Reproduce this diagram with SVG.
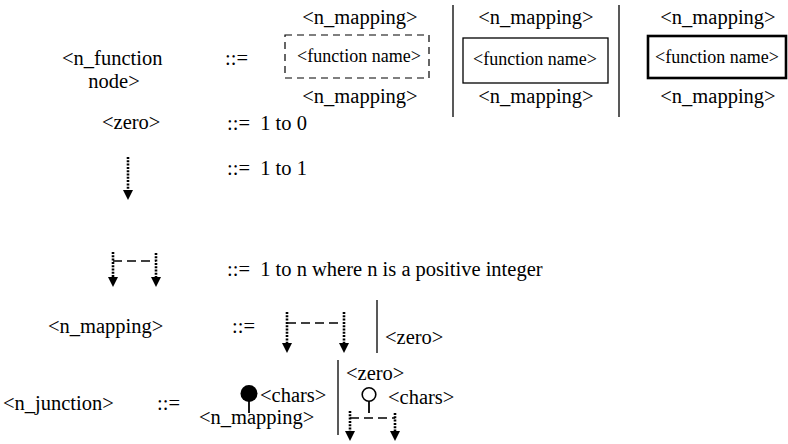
<svg xmlns="http://www.w3.org/2000/svg" width="788" height="444" viewBox="0 0 788 444">
<style>
.t{font-family:"Liberation Serif","Times New Roman",serif;font-size:20.5px;fill:#000}
.fn{font-family:"Liberation Serif","Times New Roman",serif;font-size:18px;fill:#000}
.mid{text-anchor:middle}
.div{stroke:#222;stroke-width:1.5}
.dot{stroke:#000;stroke-width:2.6;stroke-dasharray:2 1.3;fill:none}
.dash{stroke:#000;stroke-width:1.6;stroke-dasharray:9 5;fill:none}
.stem{stroke:#000;stroke-width:1.8}
</style>
<defs>
<marker id="ah" markerUnits="userSpaceOnUse" markerWidth="10" markerHeight="10" refX="0" refY="5" orient="auto" viewBox="0 0 10 10">
<path d="M0,0 L10,5 L0,10 Z" fill="#000"/>
</marker>
</defs>
<rect width="788" height="444" fill="#fff"/>
<g id="row-function-node">
<text class="t" x="62" y="65">&lt;n_function</text>
<text x="114" y="88" class="t mid">node&gt;</text>
<text class="t" x="225" y="65">::=</text>
</g>
<g id="alt-dashed">
<text x="360" y="24" class="t mid">&lt;n_mapping&gt;</text>
<rect x="285" y="35" width="144" height="43" fill="none" stroke="#000" stroke-width="1.2" stroke-dasharray="7 5"/>
<text x="359" y="62" class="mid fn">&lt;function name&gt;</text>
<text x="360" y="103" class="t mid">&lt;n_mapping&gt;</text>
</g>
<g id="alt-solid">
<text x="536" y="24" class="t mid">&lt;n_mapping&gt;</text>
<rect x="463" y="38" width="145" height="45" fill="none" stroke="#000" stroke-width="1.3"/>
<text x="535" y="65" class="mid fn">&lt;function name&gt;</text>
<text x="536" y="103" class="t mid">&lt;n_mapping&gt;</text>
</g>
<g id="alt-thick">
<text x="718" y="24" class="t mid">&lt;n_mapping&gt;</text>
<rect x="648" y="36" width="138" height="42" fill="none" stroke="#000" stroke-width="2.6"/>
<text x="717" y="63" class="mid fn">&lt;function name&gt;</text>
<text x="718" y="103" class="t mid">&lt;n_mapping&gt;</text>
</g>
<g id="row-zero">
<text class="t" x="102" y="129">&lt;zero&gt;</text>
<text class="t" x="227" y="130" xml:space="preserve">::=  1 to 0</text>
</g>
<g id="row-one">
<text class="t" x="227" y="175" xml:space="preserve">::=  1 to 1</text>
</g>
<g id="row-many">
<text class="t" x="227" y="276" xml:space="preserve">::=  1 to n where n is a positive integer</text>
</g>
<g id="row-mapping">
<text class="t" x="48" y="333">&lt;n_mapping&gt;</text>
<text class="t" x="232" y="333">::=</text>
<text class="t" x="385" y="344">&lt;zero&gt;</text>
</g>
<g id="row-junction">
<text class="t" x="3" y="410">&lt;n_junction&gt;</text>
<text class="t" x="157" y="410">::=</text>
<circle cx="249" cy="393.5" r="8.5" fill="#000"/>
<line class="stem" x1="249" y1="400" x2="249" y2="413"/>
<text class="t" x="260" y="402">&lt;chars&gt;</text>
<text class="t" x="199" y="424">&lt;n_mapping&gt;</text>
<text class="t" x="346" y="380">&lt;zero&gt;</text>
<circle cx="369" cy="394.5" r="6.8" fill="#fff" stroke="#000" stroke-width="1.6"/>
<line class="stem" x1="369" y1="401.3" x2="369" y2="413"/>
<text class="t" x="388" y="404">&lt;chars&gt;</text>
</g>
<g id="connectors">
<line class="div" x1="453" y1="5" x2="453" y2="117"/>
<line class="div" x1="619" y1="5" x2="619" y2="117"/>
<line class="div" x1="377" y1="300" x2="377" y2="353"/>
<line class="div" x1="338" y1="360" x2="338" y2="435"/>
<line class="dot" x1="128" y1="157" x2="128" y2="190" marker-end="url(#ah)"/>
<line class="dash" x1="113" y1="261" x2="156" y2="261"/>
<line class="dot" x1="113" y1="252" x2="113" y2="277" marker-end="url(#ah)"/>
<line class="dot" x1="156" y1="253" x2="156" y2="277" marker-end="url(#ah)"/>
<line class="dash" x1="287" y1="323" x2="344" y2="323"/>
<line class="dot" x1="287" y1="312" x2="287" y2="343" marker-end="url(#ah)"/>
<line class="dot" x1="344" y1="312" x2="344" y2="343" marker-end="url(#ah)"/>
<line class="dash" x1="350" y1="418" x2="395" y2="418"/>
<line class="dot" x1="350" y1="411" x2="350" y2="431" marker-end="url(#ah)"/>
<line class="dot" x1="395" y1="413" x2="395" y2="431" marker-end="url(#ah)"/>
</g>
</svg>
